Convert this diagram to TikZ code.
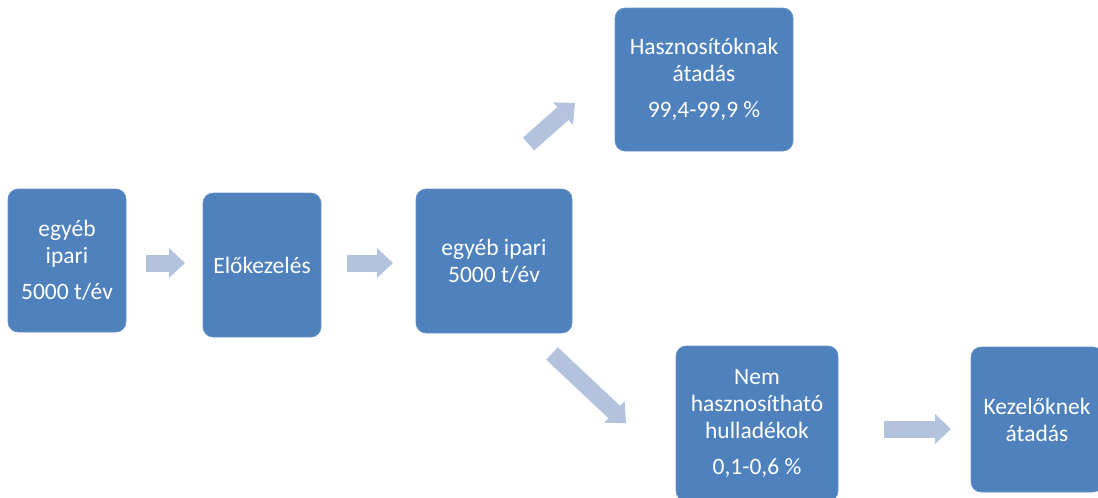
\documentclass[tikz,border=0pt]{standalone}
\usepackage{fontspec}
\setmainfont{Carlito}
\usetikzlibrary{arrows.meta}
\definecolor{boxblue}{RGB}{79,129,189}
\definecolor{arrowblue}{RGB}{179,195,222}
\tikzset{
  box/.style={fill=boxblue, draw=boxblue!85!white, line width=0.6pt, rounded corners=10pt,
    text=white, align=center, inner sep=0pt,
    font=\fontsize{23.5}{27}\selectfont},
  bigarrow/.style={draw=arrowblue, line width=17pt, line cap=butt,
    -{Triangle[length=16pt, width=30pt, line width=0pt, fill=arrowblue]}}
}
\begin{document}
\begin{tikzpicture}[x=1pt, y=-1pt]
\useasboundingbox (0,0) rectangle (1098,498);
\clip (0,0) rectangle (1098,498);
\node[box, minimum width=118pt, minimum height=143pt] (b1) at (67,260.5) {egyéb\\ipari\\[9pt]5000 t/év};
\node[box, minimum width=118pt, minimum height=144pt] (b2) at (262,265) {Előkezelés};
\node[box, minimum width=156pt, minimum height=144pt] (b3) at (494,261) {egyéb ipari\\5000 t/év};
\node[box, minimum width=178pt, minimum height=143pt] (b4) at (704,79.5) {Hasznosítóknak\\átadás\\[9pt]99,4-99,9 \%};
\node[box, minimum width=162pt, minimum height=155pt] (b5) at (757,423.5) {Nem\\hasznosítható\\hulladékok\\[9pt]0,1-0,6 \%};
\node[box, minimum width=132pt, minimum height=145pt] (b6) at (1037,419.5) {Kezelőknek\\átadás};
\coordinate (a1s) at (146,263);
\coordinate (a1e) at (185,263);
\coordinate (a2s) at (347,263);
\coordinate (a2e) at (393,263);
\coordinate (a3s) at (528.5,144);
\coordinate (a3e) at (575,103);
\coordinate (a4s) at (552,353.5);
\coordinate (a4e) at (626,423);
\coordinate (a5s) at (884,429);
\coordinate (a5e) at (951,429);
\draw[bigarrow] (a1s) -- (a1e);
\draw[bigarrow] (a2s) -- (a2e);
\draw[bigarrow] (a3s) -- (a3e);
\draw[bigarrow] (a4s) -- (a4e);
\draw[bigarrow] (a5s) -- (a5e);
\end{tikzpicture}
\end{document}
